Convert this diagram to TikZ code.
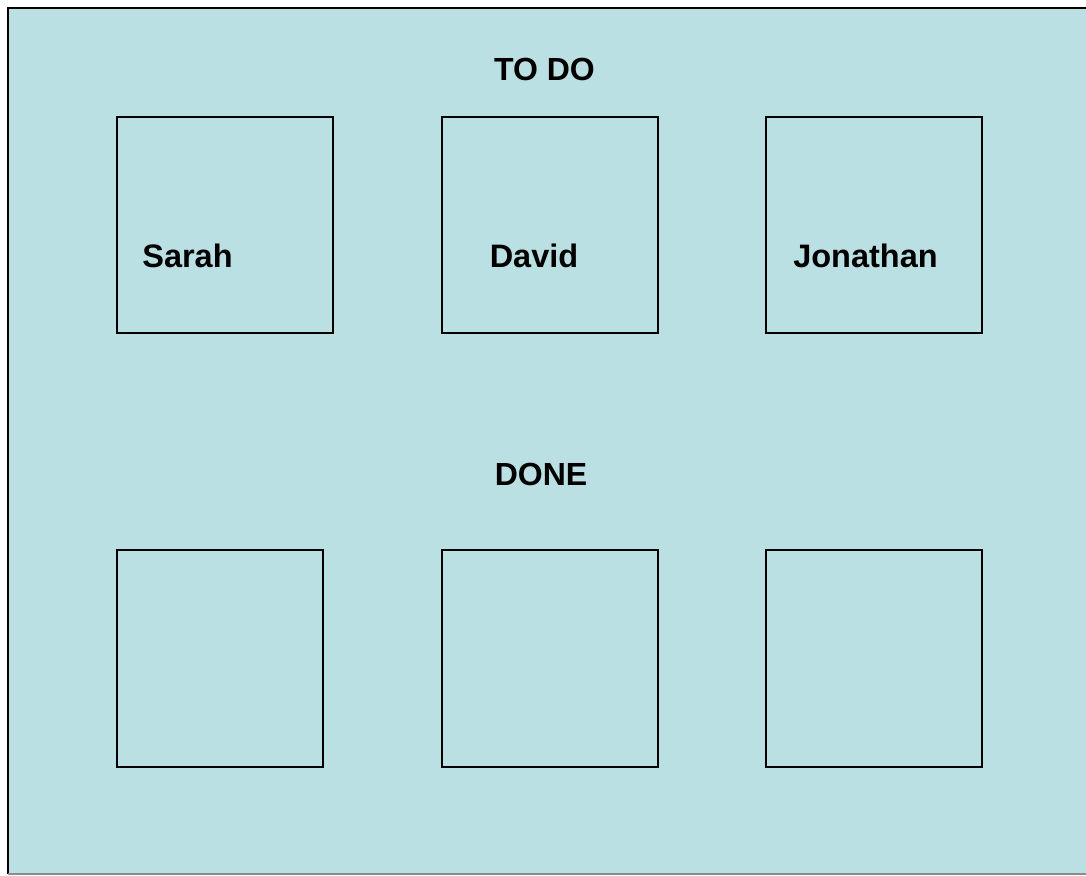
\documentclass[tikz,border=0pt]{standalone}
\usepackage{fontspec}
\setmainfont{Liberation Sans}
\usetikzlibrary{positioning}
\definecolor{boardbg}{HTML}{BBE0E3}

\begin{document}
\begin{tikzpicture}[
    x=1pt, y=-1pt,
    slot/.style={draw, line width=1.3pt, rectangle, minimum width=216pt, minimum height=216pt, inner sep=0pt},
    heading/.style={font=\fontsize{32}{38}\selectfont\bfseries, anchor=base},
    person/.style={font=\fontsize{32.5}{38}\selectfont\bfseries, anchor=base},
  ]
  \useasboundingbox (0,0) rectangle (1086,875);
  % Board (runs past the right edge)
  \fill[boardbg] (8,8) rectangle (1086,874);
  \draw[line width=1.3pt] (1086,8) -- (8,8) -- (8,874);
  \draw[line width=1.3pt, black!45] (8,874) -- (1086,874);

  % To do row
  \node[heading] (todo) at (544.5,81) {TO DO};
  \node[slot] (t1) at (225,225) {};
  \node[slot] (t2) at (550,225) {};
  \node[slot] (t3) at (874,225) {};
  \node[person] (sarah) at (187.5,267) {Sarah};
  \node[person] (david) at (534,267) {David};
  \node[person] (jon) at (865.5,267) {Jonathan};

  % Done row
  \node[heading] (done) at (541,485) {DONE};
  \node[slot, minimum width=206pt, minimum height=217pt] (d1) at (220,658.5) {};
  \node[slot, minimum height=217pt] (d2) at (550,658.5) {};
  \node[slot, minimum height=217pt] (d3) at (874,658.5) {};
\end{tikzpicture}
\end{document}
